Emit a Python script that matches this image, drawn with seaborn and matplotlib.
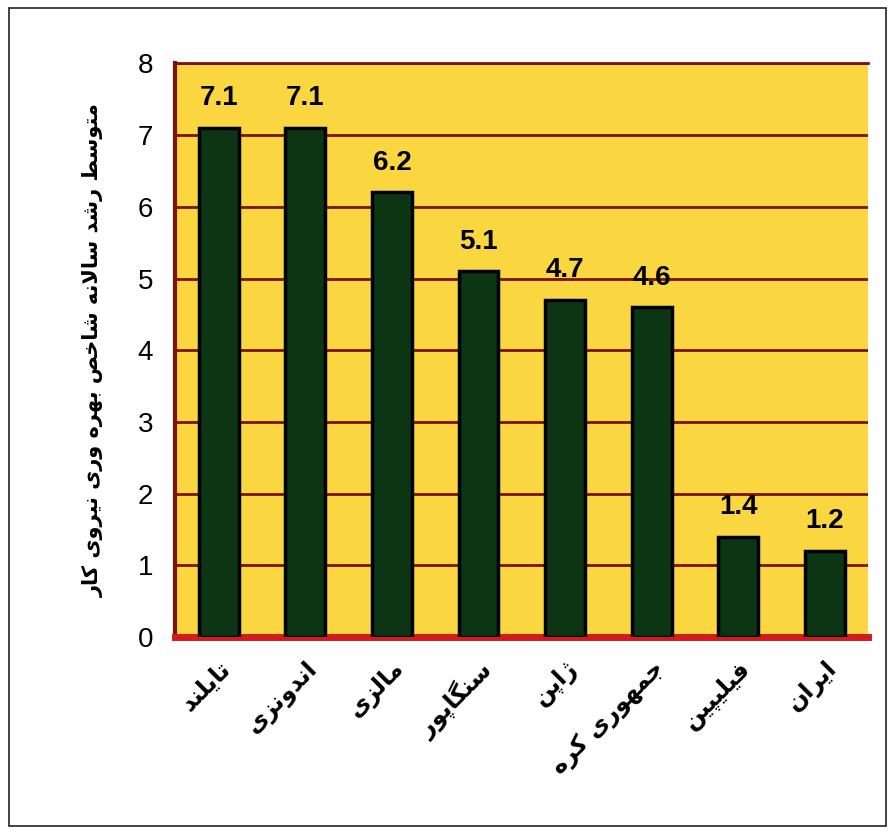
import matplotlib
matplotlib.use('Agg')
import matplotlib.pyplot as plt
import seaborn as sns
import pandas as pd
from matplotlib.patches import Rectangle

# data
countries = ['تایلند', 'اندونزی', 'مالزی', 'سنگاپور', 'ژاپن', 'جمهوری کره', 'فیلیپین', 'ایران']
growth = [7.1, 7.1, 6.2, 5.1, 4.7, 4.6, 1.4, 1.2]
y_ticks = [0, 1, 2, 3, 4, 5, 6, 7, 8]
y_title = 'متوسط رشد سالانه شاخص بهره وری نیروی کار'

# matplotlib has no Arabic shaping, so join the letters by hand
# (isolated, final, initial, medial) presentation forms
FORMS = {
    '\u0627': (0xFE8D, 0xFE8E), '\u0628': (0xFE8F, 0xFE90, 0xFE91, 0xFE92),
    '\u067e': (0xFB56, 0xFB57, 0xFB58, 0xFB59), '\u062a': (0xFE95, 0xFE96, 0xFE97, 0xFE98),
    '\u062c': (0xFE9D, 0xFE9E, 0xFE9F, 0xFEA0), '\u062e': (0xFEA5, 0xFEA6, 0xFEA7, 0xFEA8),
    '\u062f': (0xFEA9, 0xFEAA), '\u0631': (0xFEAD, 0xFEAE), '\u0632': (0xFEAF, 0xFEB0),
    '\u0698': (0xFB8A, 0xFB8B), '\u0633': (0xFEB1, 0xFEB2, 0xFEB3, 0xFEB4),
    '\u0634': (0xFEB5, 0xFEB6, 0xFEB7, 0xFEB8), '\u0635': (0xFEB9, 0xFEBA, 0xFEBB, 0xFEBC),
    '\u0637': (0xFEC1, 0xFEC2, 0xFEC3, 0xFEC4), '\u0641': (0xFED1, 0xFED2, 0xFED3, 0xFED4),
    '\u06a9': (0xFB8E, 0xFB8F, 0xFB90, 0xFB91), '\u06af': (0xFB92, 0xFB93, 0xFB94, 0xFB95),
    '\u0644': (0xFEDD, 0xFEDE, 0xFEDF, 0xFEE0), '\u0645': (0xFEE1, 0xFEE2, 0xFEE3, 0xFEE4),
    '\u0646': (0xFEE5, 0xFEE6, 0xFEE7, 0xFEE8), '\u0647': (0xFEE9, 0xFEEA, 0xFEEB, 0xFEEC),
    '\u0648': (0xFEED, 0xFEEE), '\u06cc': (0xFBFC, 0xFBFD, 0xFBFE, 0xFBFF),
}


def links_forward(ch):
    return ch in FORMS and len(FORMS[ch]) == 4


def shape(text):
    """Return Persian text as joined glyphs in visual (left-to-right) order."""
    text = text.replace('\u064a', '\u06cc').replace('\u0643', '\u06a9')
    out = []
    i = 0
    while i < len(text):
        ch = text[i]
        before = i > 0 and links_forward(text[i - 1])
        if ch == '\u0644' and i + 1 < len(text) and text[i + 1] == '\u0627':
            out.append('\uFEFC' if before else '\uFEFB')
            i += 2
            continue
        if ch not in FORMS:
            out.append(ch)
            i += 1
            continue
        after = links_forward(ch) and i + 1 < len(text) and text[i + 1] in FORMS
        f = FORMS[ch]
        if before and after:
            g = f[3]
        elif before:
            g = f[1]
        elif after:
            g = f[2]
        else:
            g = f[0]
        out.append(chr(g))
        i += 1
    return ''.join(reversed(out))


df = pd.DataFrame({'country': [shape(c) for c in countries], 'growth': growth})

sns.set_style('white')
plt.rcParams['font.family'] = ['Liberation Sans', 'DejaVu Sans']

YELLOW = '#fad740'
DARK_RED = '#7e1010'
RED = '#d41a1a'
GREEN = '#0b3513'

fig = plt.figure(figsize=(8.95, 8.34), dpi=100)
ax = fig.add_axes([0.196, 0.236, 0.774, 0.688])
ax.set_facecolor(YELLOW)

sns.barplot(data=df, x='country', y='growth', color=GREEN, width=0.46,
            edgecolor='black', linewidth=2.5, saturation=1, ax=ax, zorder=3)

ax.bar_label(ax.containers[0], labels=[f'{v:.1f}' for v in growth], padding=12,
             fontsize=20, fontweight='bold', color='black')

ax.set_ylim(0, 8)
ax.set_xlim(-0.5, len(countries) - 0.5)
ax.set_yticks(y_ticks)
ax.set_yticklabels([str(t) for t in y_ticks], fontsize=20, color='black')
ax.yaxis.grid(True, color=DARK_RED, linewidth=2, zorder=1)
ax.set_axisbelow(True)
ax.tick_params(axis='both', length=0)
ax.tick_params(axis='y', pad=16)
ax.tick_params(axis='x', pad=14)

for lab in ax.get_xticklabels():
    lab.set_family('DejaVu Sans')
    lab.set_fontweight('bold')
    lab.set_fontsize(17)
    lab.set_color('black')
    lab.set_rotation(45)
    lab.set_ha('right')
    lab.set_rotation_mode('anchor')

ax.set_xlabel('')
ax.set_ylabel(shape(y_title), family='DejaVu Sans', fontweight='bold',
              fontsize=15, color='black', labelpad=24)

ax.spines['right'].set_visible(False)
ax.spines['top'].set_color(DARK_RED)
ax.spines['top'].set_linewidth(2)
ax.spines['left'].set_color(DARK_RED)
ax.spines['left'].set_linewidth(3)
ax.spines['bottom'].set_color(RED)
ax.spines['bottom'].set_linewidth(5)

# thin frame around the whole picture, as in the scan
fig.patches.append(Rectangle((0.01, 0.01), 0.98, 0.98, transform=fig.transFigure,
                             fill=False, edgecolor='#222222', linewidth=1.2))

fig.savefig('out.png', dpi=100, facecolor='white')
